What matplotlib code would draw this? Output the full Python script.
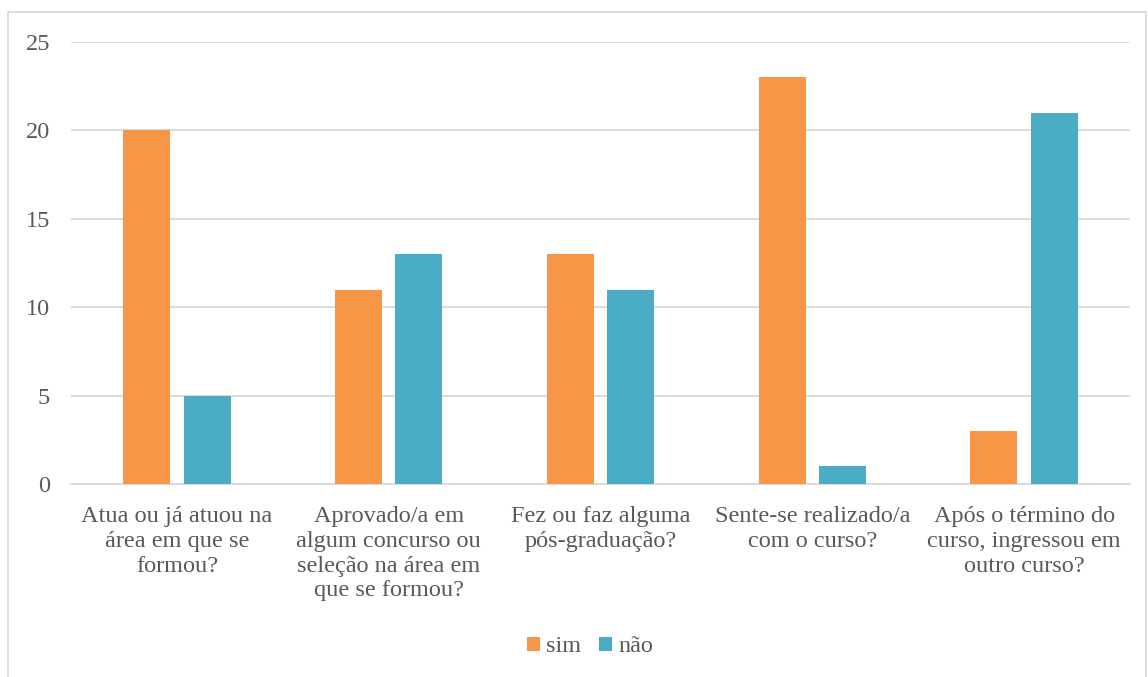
import matplotlib
matplotlib.use("Agg")
import matplotlib.pyplot as plt
import numpy as np
from matplotlib.patches import Rectangle

categories = [
    "Atua ou já atuou na\nárea em que se\nformou?",
    "Aprovado/a em\nalgum concurso ou\nseleção na área em\nque se formou?",
    "Fez ou faz alguma\npós-graduação?",
    "Sente-se realizado/a\ncom o curso?",
    "Após o término do\ncurso, ingressou em\noutro curso?",
]
sim = [20, 11, 13, 23, 3]
nao = [5, 13, 11, 1, 21]
yticks = [0, 5, 10, 15, 20, 25]

plt.rcParams['font.family'] = 'serif'
plt.rcParams['font.serif'] = ['Liberation Serif', 'DejaVu Serif']
W, H = 1148, 677
fig = plt.figure(figsize=(W/100, H/100), dpi=100)
ax = fig.add_axes([71/W, (H-484)/H, (1130-71)/W, (484-42)/H])

x = np.arange(len(categories))
w = 0.222
off = 0.143
ax.bar(x - off, sim, w, color='#F79646', label='sim', zorder=3)
ax.bar(x + off, nao, w, color='#4BACC6', label='não', zorder=3)

ax.set_xlim(-0.5, len(categories) - 0.5)
ax.set_ylim(0, 25)
ax.set_yticks(yticks)
ax.yaxis.grid(True, color='#D9D9D9', linewidth=1.3, zorder=0)
ax.set_axisbelow(True)
for s in ['top', 'right', 'left']:
    ax.spines[s].set_visible(False)
ax.spines['bottom'].set_color('#D9D9D9')
ax.spines['bottom'].set_linewidth(1.3)
ax.tick_params(axis='both', length=0, labelsize=17.5, colors='#595959')
ax.tick_params(axis='x', pad=16)
ax.tick_params(axis='y', pad=15)
ax.set_xticks(x)
ax.set_xticklabels(categories, linespacing=1.23, va='top')

leg = fig.legend(loc='center', bbox_to_anchor=(590/W, (H-647)/H), ncol=2, frameon=False,
                 fontsize=17.5, handlelength=0.55, handleheight=0.55, handletextpad=0.25,
                 columnspacing=0.7, labelcolor='#595959')

fig.add_artist(Rectangle((8/W, -0.05), (1146-8)/W, (H-12)/H + 0.05, transform=fig.transFigure,
                         fill=False, edgecolor='#D9D9D9', linewidth=1.3))

fig.savefig('out.png', dpi=100)
